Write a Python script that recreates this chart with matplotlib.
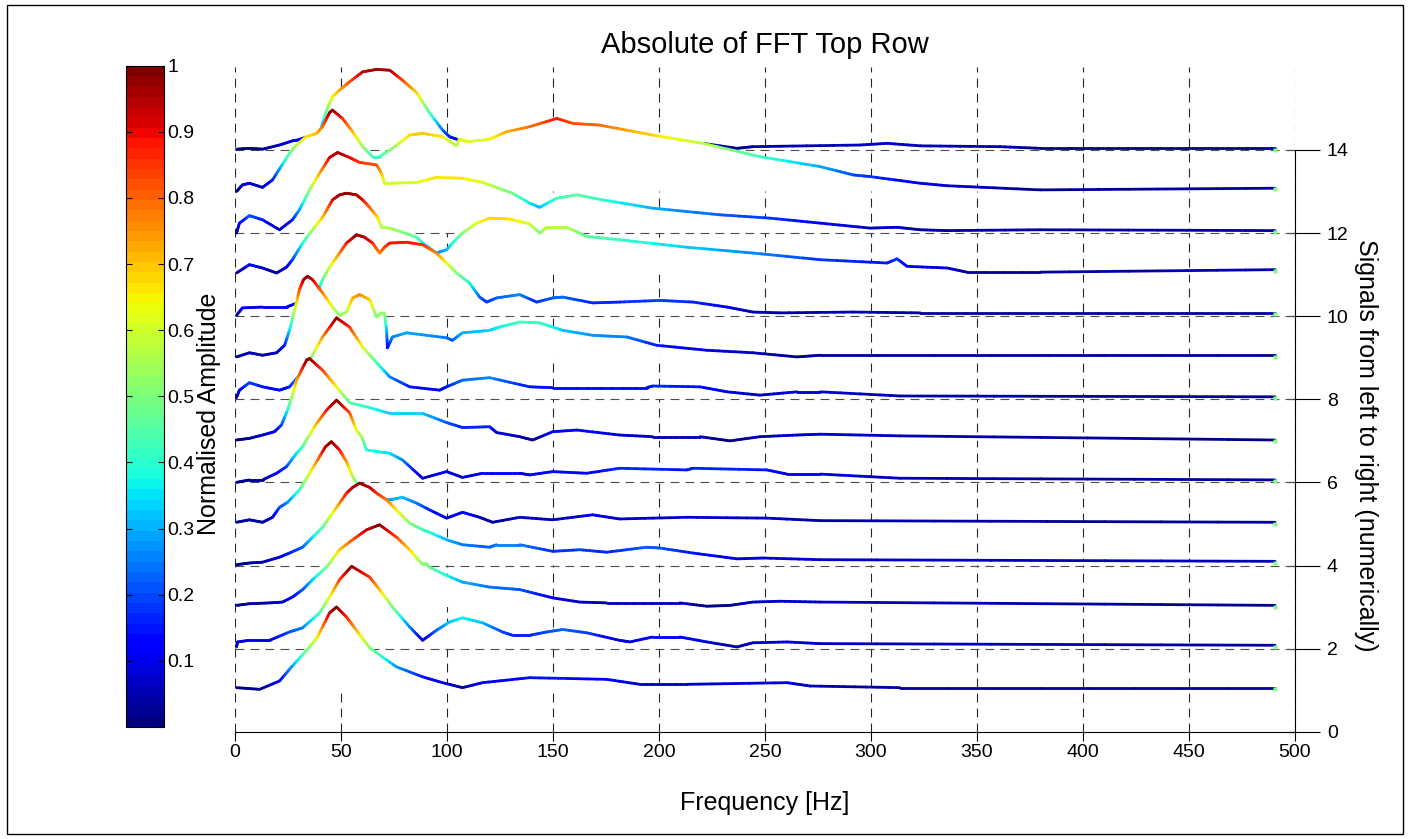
import numpy as np
import matplotlib
matplotlib.use('Agg')
import matplotlib.pyplot as plt
from matplotlib.collections import LineCollection
from matplotlib.colors import Normalize
from matplotlib.patches import Rectangle
from matplotlib.ticker import FixedLocator
import matplotlib.cm as cm

plt.rcParams['font.family'] = ['Liberation Sans', 'DejaVu Sans']

# ---- data: frequency [Hz] and normalised amplitude of each signal ----
sig01_f = [0.7, 11.6, 21.0, 26.7, 35.2, 38.9, 44.6, 47.9, 52.6, 57.3, 63.5, 76.2, 88.5, 97.9,
           107.3, 116.8, 139.0, 175.3, 190.9, 213.1, 260.4, 271.2, 313.7, 490.6]
sig01_a = [0.03, 0.01, 0.11, 0.28, 0.52, 0.64, 0.93, 1.00, 0.88, 0.72, 0.51, 0.28, 0.16, 0.09,
           0.03, 0.09, 0.15, 0.13, 0.07, 0.07, 0.09, 0.05, 0.03, 0.03]

sig02_f = [0.7, 1.2, 6.8, 16.3, 25.7, 31.9, 39.9, 44.6, 49.3, 55.0, 63.5, 68.2, 74.3, 82.4, 88.5,
           95.0, 101.2, 107.3, 116.8, 126.2, 130.9, 139.0, 147.0, 154.6, 165.9, 181.4, 186.2,
           197.0, 209.8, 222.6, 236.8, 244.3, 260.4, 276.0, 490.6]
sig02_a = [0.02, 0.08, 0.10, 0.10, 0.20, 0.25, 0.43, 0.62, 0.83, 0.99, 0.86, 0.71, 0.50, 0.26, 0.10,
           0.22, 0.32, 0.37, 0.31, 0.20, 0.16, 0.16, 0.20, 0.23, 0.19, 0.10, 0.08,
           0.14, 0.14, 0.08, 0.02, 0.07, 0.08, 0.06, 0.04]

sig03_f = [0.7, 6.8, 16.3, 22.4, 27.1, 31.9, 36.6, 43.2, 49.3, 55.5, 62.1, 68.2, 76.2, 82.4, 88.5,
           90.4, 91.7, 99.8, 107.3, 120.1, 134.3, 149.9, 162.6, 175.3, 209.8, 222.6, 233.5,
           244.3, 257.1, 276.0, 490.6]
sig03_a = [0.02, 0.04, 0.05, 0.06, 0.12, 0.21, 0.33, 0.48, 0.69, 0.81, 0.93, 0.99, 0.84, 0.69, 0.51,
           0.52, 0.48, 0.38, 0.30, 0.24, 0.21, 0.11, 0.06, 0.05, 0.05, 0.01, 0.02,
           0.06, 0.07, 0.06, 0.02]

sig04_f = [0.7, 6.8, 13.0, 21.0, 25.7, 31.9, 36.6, 41.3, 44.6, 49.3, 52.6, 55.5, 58.8, 63.5, 66.8,
           71.5, 77.6, 82.4, 88.5, 91.7, 99.8, 107.3, 120.1, 123.4, 134.3, 149.9, 162.6, 175.3,
           194.2, 200.4, 216.0, 236.8, 249.1, 276.0, 490.6]
sig04_a = [0.01, 0.03, 0.04, 0.10, 0.15, 0.22, 0.34, 0.46, 0.58, 0.75, 0.87, 0.94, 0.99, 0.94, 0.87,
           0.79, 0.63, 0.51, 0.43, 0.40, 0.31, 0.25, 0.22, 0.25, 0.25, 0.17, 0.19, 0.16,
           0.22, 0.21, 0.15, 0.08, 0.09, 0.07, 0.05]

sig05_f = [0.7, 6.8, 13.0, 17.7, 21.0, 24.8, 30.4, 35.2, 39.9, 42.7, 45.5, 49.3, 52.6, 55.5, 58.8,
           65.8, 73.0, 79.0, 85.7, 91.7, 99.8, 107.3, 115.4, 121.5, 134.3, 149.9, 168.7, 181.4,
           213.1, 250.9, 276.0, 490.6]
sig05_a = [0.02, 0.05, 0.02, 0.08, 0.20, 0.26, 0.41, 0.61, 0.81, 0.93, 0.99, 0.89, 0.75, 0.57, 0.43,
           0.32, 0.29, 0.32, 0.25, 0.17, 0.07, 0.14, 0.08, 0.02, 0.08, 0.05, 0.11, 0.06,
           0.08, 0.07, 0.04, 0.02]

sig06_f = [0.7, 6.8, 13.0, 19.6, 24.3, 29.0, 31.9, 33.7, 38.5, 43.2, 47.9, 54.0, 57.3, 59.7, 62.1,
           73.0, 79.0, 88.5, 99.8, 107.3, 116.8, 134.3, 139.0, 149.9, 165.9, 181.4, 213.1, 216.0,
           250.9, 260.4, 276.0, 313.7, 490.6]
sig06_a = [0.00, 0.03, 0.03, 0.11, 0.19, 0.35, 0.43, 0.51, 0.71, 0.87, 0.99, 0.84, 0.63, 0.55, 0.39,
           0.35, 0.27, 0.05, 0.13, 0.06, 0.11, 0.11, 0.09, 0.13, 0.11, 0.17, 0.15, 0.17,
           0.15, 0.10, 0.10, 0.05, 0.03]

sig07_f = [0.7, 6.8, 13.0, 18.6, 21.9, 24.8, 27.1, 29.0, 33.7, 35.2, 41.3, 47.9, 54.0, 63.5, 73.0,
           88.5, 99.8, 107.3, 120.1, 123.4, 134.3, 140.4, 149.9, 161.2, 181.4, 197.0, 219.3,
           233.5, 247.6, 265.1, 276.0, 313.7, 490.6]
sig07_a = [0.01, 0.03, 0.07, 0.11, 0.19, 0.37, 0.55, 0.73, 0.97, 0.99, 0.85, 0.65, 0.46, 0.40, 0.33,
           0.33, 0.22, 0.16, 0.17, 0.10, 0.05, 0.01, 0.11, 0.13, 0.07, 0.05, 0.05,
           0.00, 0.05, 0.07, 0.08, 0.06, 0.01]

sig08_f = [0.7, 2.1, 6.8, 13.0, 21.0, 25.7, 30.4, 35.2, 41.3, 47.9, 54.0, 60.2, 66.8, 73.0, 82.4,
           96.5, 99.8, 107.3, 120.1, 139.0, 149.9, 194.2, 197.0, 219.3, 232.1, 247.6, 265.1,
           276.0, 313.7, 490.6]
sig08_a = [0.02, 0.11, 0.20, 0.15, 0.11, 0.15, 0.29, 0.47, 0.75, 0.98, 0.87, 0.63, 0.44, 0.27, 0.15,
           0.11, 0.15, 0.23, 0.26, 0.15, 0.14, 0.14, 0.16, 0.15, 0.09, 0.05, 0.09,
           0.09, 0.04, 0.03]

sig09_f = [0.7, 6.8, 13.0, 19.6, 23.4, 25.7, 28.1, 30.4, 32.3, 34.2, 36.6, 41.3, 46.0, 49.3, 52.6,
           55.5, 58.8, 63.5, 66.8, 69.1, 70.5, 71.5, 71.9, 74.3, 80.9, 99.8, 102.6, 107.3,
           120.1, 124.8, 134.3, 143.7, 154.6, 168.7, 184.8, 198.9, 222.6, 244.3, 265.1,
           276.0, 490.6]
sig09_a = [0.01, 0.06, 0.03, 0.06, 0.15, 0.33, 0.57, 0.82, 0.94, 0.98, 0.94, 0.78, 0.61, 0.51, 0.55,
           0.72, 0.76, 0.70, 0.49, 0.54, 0.54, 0.33, 0.12, 0.25, 0.30, 0.24, 0.21, 0.30,
           0.33, 0.37, 0.43, 0.42, 0.33, 0.27, 0.25, 0.15, 0.09, 0.06, 0.01,
           0.03, 0.03]

sig10_f = [0.7, 3.5, 13.0, 24.3, 30.4, 36.6, 39.9, 41.3, 44.6, 49.3, 52.6, 57.3, 61.1, 64.9, 68.2,
           70.5, 73.0, 80.9, 88.5, 95.0, 99.8, 104.5, 110.6, 115.4, 118.7, 123.4, 134.3, 142.3,
           149.9, 154.6, 168.7, 181.4, 200.4, 216.0, 232.1, 244.3, 257.1, 291.6, 323.2, 490.6]
sig10_a = [0.01, 0.10, 0.11, 0.11, 0.17, 0.28, 0.35, 0.44, 0.59, 0.76, 0.88, 0.98, 0.95, 0.88, 0.76,
           0.83, 0.88, 0.89, 0.86, 0.76, 0.64, 0.52, 0.40, 0.23, 0.17, 0.22, 0.26, 0.17,
           0.22, 0.23, 0.16, 0.17, 0.19, 0.17, 0.11, 0.05, 0.04, 0.05, 0.04, 0.04]

sig11_f = [0.7, 6.8, 13.0, 19.6, 24.3, 27.1, 31.9, 36.6, 41.3, 46.0, 49.3, 52.6, 57.3, 60.2, 63.5,
           67.2, 69.1, 73.0, 79.0, 85.7, 88.5, 95.0, 99.8, 102.6, 107.3, 113.9, 120.1, 129.5,
           139.0, 143.7, 147.0, 156.5, 165.9, 181.4, 213.1, 244.3, 276.0, 307.6, 312.3, 317.0,
           335.9, 345.2, 379.8, 490.6]
sig11_a = [0.02, 0.12, 0.08, 0.02, 0.09, 0.18, 0.38, 0.54, 0.69, 0.90, 0.96, 0.98, 0.96, 0.90, 0.81,
           0.69, 0.57, 0.56, 0.51, 0.45, 0.38, 0.26, 0.30, 0.38, 0.50, 0.62, 0.68, 0.67,
           0.61, 0.50, 0.57, 0.57, 0.46, 0.42, 0.33, 0.26, 0.18, 0.14, 0.19, 0.10,
           0.08, 0.03, 0.03, 0.06]

sig12_f = [0.7, 2.1, 6.8, 13.0, 21.0, 27.1, 30.4, 35.2, 39.9, 44.6, 48.4, 54.0, 58.8, 66.8, 69.1,
           70.5, 73.0, 85.7, 95.0, 107.3, 116.8, 130.9, 139.0, 143.7, 151.8, 161.2, 173.4,
           197.0, 228.8, 252.3, 276.0, 299.6, 312.3, 323.2, 335.9, 379.8, 490.6]
sig12_a = [0.00, 0.12, 0.21, 0.16, 0.04, 0.16, 0.28, 0.52, 0.72, 0.91, 0.97, 0.91, 0.85, 0.82, 0.72,
           0.60, 0.60, 0.61, 0.67, 0.66, 0.61, 0.48, 0.36, 0.31, 0.42, 0.46, 0.40,
           0.30, 0.22, 0.18, 0.12, 0.06, 0.07, 0.04, 0.03, 0.04, 0.03]

sig13_f = [0.7, 3.5, 6.8, 13.0, 17.7, 25.7, 29.0, 33.7, 38.5, 41.3, 44.6, 46.0, 50.7, 55.5, 60.2,
           64.9, 68.2, 74.3, 82.4, 88.5, 97.9, 104.5, 105.9, 109.7, 120.1, 128.1, 139.0, 151.8,
           159.3, 171.9, 197.0, 220.7, 247.6, 276.0, 291.6, 299.6, 323.2, 335.9, 379.8, 490.6]
sig13_a = [0.00, 0.08, 0.10, 0.05, 0.14, 0.46, 0.56, 0.66, 0.70, 0.78, 0.95, 0.98, 0.88, 0.72, 0.54,
           0.42, 0.42, 0.52, 0.68, 0.70, 0.66, 0.55, 0.63, 0.60, 0.63, 0.72, 0.78, 0.88,
           0.82, 0.80, 0.68, 0.58, 0.42, 0.30, 0.20, 0.18, 0.10, 0.07, 0.02, 0.04]

sig14_f = [0.7, 6.8, 13.0, 21.0, 27.1, 29.5, 34.2, 39.9, 43.2, 46.0, 49.3, 54.0, 60.2, 66.8, 73.0,
           79.0, 85.7, 91.7, 97.9, 101.2, 104.5, 110.6, 150.0, 200.0, 220.7, 236.8, 244.3,
           294.9, 307.6, 323.2, 360.9, 379.8, 490.6]
sig14_a = [0.01, 0.02, 0.01, 0.06, 0.11, 0.12, 0.16, 0.20, 0.48, 0.64, 0.72, 0.82, 0.94, 0.97, 0.96,
           0.84, 0.69, 0.45, 0.24, 0.16, 0.13, 0.08, 0.06, 0.05, 0.08, 0.02, 0.04,
           0.06, 0.08, 0.05, 0.04, 0.02, 0.02]

signals = [(sig01_f, sig01_a), (sig02_f, sig02_a), (sig03_f, sig03_a), (sig04_f, sig04_a),
           (sig05_f, sig05_a), (sig06_f, sig06_a), (sig07_f, sig07_a), (sig08_f, sig08_a),
           (sig09_f, sig09_a), (sig10_f, sig10_a), (sig11_f, sig11_a), (sig12_f, sig12_a),
           (sig13_f, sig13_a), (sig14_f, sig14_a)]

x_ticks = [0, 50, 100, 150, 200, 250, 300, 350, 400, 450, 500]
y_ticks = [0, 2, 4, 6, 8, 10, 12, 14]
cbar_ticks = [0.1, 0.2, 0.3, 0.4, 0.5, 0.6, 0.7, 0.8, 0.9, 1.0]
cbar_labels = ['0.1', '0.2', '0.3', '0.4', '0.5', '0.6', '0.7', '0.8', '0.9', '1']

amp_scale = 2.0   # height of a unit amplitude in signal-axis units
cmap = plt.get_cmap('jet', 64)
norm = Normalize(0, 1)
grid_dash = (0, (8, 5.5))

W, H = 1408, 839
fig = plt.figure(figsize=(W / 100, H / 100), dpi=100)
ax = fig.add_axes([235 / W, 1 - 731.7 / H, 1060 / W, (731.7 - 66.9) / H])
cax = fig.add_axes([126 / W, 1 - 727 / H, 37.5 / W, (727 - 65.6) / H])


def draw_signal(freq, amp, offset, z):
    freq = np.asarray(freq, float)
    amp = np.asarray(amp, float)
    # white curtain under the trace hides the traces and floor grid behind it
    ax.fill_between(freq, offset, offset + amp_scale * amp, facecolor='white',
                    edgecolor='none', zorder=z)
    # split each drawn segment in short pieces so the colour follows the amplitude
    t = np.linspace(0, 1, 8, endpoint=False)
    fx = np.concatenate([freq[i] + (freq[i + 1] - freq[i]) * t for i in range(len(freq) - 1)]
                        + [freq[-1:]])
    ay = np.concatenate([amp[i] + (amp[i + 1] - amp[i]) * t for i in range(len(amp) - 1)]
                        + [amp[-1:]])
    pts = np.column_stack([fx, offset + amp_scale * ay])
    segs = np.stack([pts[:-1], pts[1:]], axis=1)
    mid = (ay[:-1] + ay[1:]) / 2
    lc = LineCollection(segs, colors=cmap(norm(mid)), linewidths=2.0,
                        capstyle='round', zorder=z + 1)
    ax.add_collection(lc)
    ax.plot(freq[-1], offset + amp_scale * amp[-1] - 0.03, 's', ms=2.5, color='#80ff80',
            mec='none', zorder=z + 1.5)


# vertical grid lines sit behind everything
for xv in x_ticks:
    ax.axvline(xv, color='0.15', lw=0.8, ls=grid_dash, zorder=1)

for k, (freq, amp) in enumerate(signals, start=1):
    z = 100 - 3 * k      # front signals (low numbers) hide the ones behind
    draw_signal(freq, amp, k, z)
    if k in y_ticks:
        ax.axhline(k, color='0.3', lw=0.8, ls=grid_dash, zorder=z + 0.5)

ax.set_xlim(0, 500)
ax.set_ylim(0, 16)
ax.set_xticks(x_ticks)
ax.set_xticklabels([str(v) for v in x_ticks])
ax.yaxis.tick_right()
ax.set_yticks(y_ticks)
ax.set_yticklabels([str(v) for v in y_ticks])
ax.yaxis.set_minor_locator(FixedLocator(y_ticks))
ax.yaxis.remove_overlapping_locs = False
ax.tick_params(axis='x', direction='out', length=6.5, width=0.8, pad=2, labelsize=14)
ax.tick_params(axis='y', which='major', direction='out', length=18, width=0.8, pad=5,
               labelsize=14, right=True, left=False)
ax.tick_params(axis='y', which='minor', direction='in', length=6, width=0.8,
               right=True, left=False)
for side in ['left', 'top']:
    ax.spines[side].set_visible(False)
ax.spines['right'].set_bounds(0, 14)
ax.spines['right'].set_linewidth(0.8)
ax.spines['bottom'].set_linewidth(0.8)
ax.spines['right'].set_zorder(200)
ax.spines['bottom'].set_zorder(200)

ax.set_title('Absolute of FFT Top Row', fontsize=21, pad=10)
ax.set_xlabel('Frequency [Hz]', fontsize=18, labelpad=22)
ax.yaxis.set_label_position('right')
ax.set_ylabel('Signals from left to right (numerically)', fontsize=18, rotation=-90)
ax.yaxis.label.set_verticalalignment('center')
ax.yaxis.label.set_horizontalalignment('center')
ax.yaxis.set_label_coords((1366 - 235) / 1060, (731.7 - 445) / (731.7 - 66.9))

# colour bar on the left
sm = cm.ScalarMappable(norm=norm, cmap=cmap)
cb = fig.colorbar(sm, cax=cax)
cb.set_ticks(cbar_ticks)
cb.set_ticklabels(cbar_labels)
cb.outline.set_linewidth(0.8)
cax.tick_params(direction='in', left=True, right=True, length=4, width=0.8, pad=3,
                labelsize=14)
cax.set_ylabel('Normalised Amplitude', fontsize=18)
cax.yaxis.label.set_verticalalignment('center')
cax.yaxis.label.set_horizontalalignment('center')
cax.yaxis.set_label_coords((209 - 126) / 37.5, (727 - 414) / (727 - 65.6))

fig.add_artist(Rectangle((7 / W, 1 - 834 / H), 1396 / W, 829 / H, transform=fig.transFigure,
                         fill=False, edgecolor='black', lw=1.0))

fig.savefig('out.png', dpi=100)
